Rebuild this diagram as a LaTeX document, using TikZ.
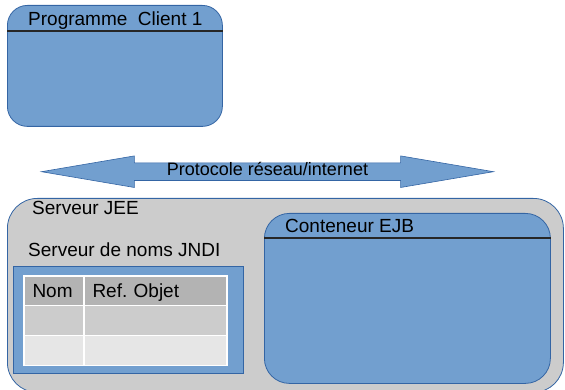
\documentclass[tikz,border=0pt]{standalone}
\usepackage{fontspec}
\setmainfont{Liberation Sans}
\usetikzlibrary{positioning,shapes.arrows}
\definecolor{boxblue}{HTML}{729FCF}
\definecolor{edgeblue}{HTML}{3465A4}
\definecolor{srvgray}{HTML}{CCCCCC}
\definecolor{headgray}{HTML}{B3B3B3}
\definecolor{rowlight}{HTML}{E6E6E6}
\frenchspacing
\tikzset{
  labeltext/.style={font=\fontsize{19}{22}\selectfont, inner sep=0pt, anchor=base west},
  contbox/.style={draw=edgeblue, fill=boxblue, line width=0.8pt, rounded corners=#1,
    anchor=north west},
  headline/.style={draw=black!85, line width=1.2pt},
  cell/.style={draw=white, line width=1.2pt, outer sep=0pt, minimum height=29.7pt,
    text height=14pt, text depth=0pt, inner xsep=8.5pt, align=left,
    font=\fontsize{19}{22}\selectfont}
}
\begin{document}
\begin{tikzpicture}[x=1pt,y=-1pt]
   \useasboundingbox (0,0) rectangle (565,390);

   % client side
   \node[contbox=20pt, minimum width=215pt, minimum height=121pt] (client) at (7,5) {};
   \draw[headline] ([yshift=-26pt]client.north west) -- ([yshift=-26pt]client.north east);
   \node[labeltext] (clientlbl) at (28,26) {Programme\ \ Client 1};

   % network protocol
   \node[double arrow, fill=boxblue, draw=edgeblue, line width=0.6pt,
         double arrow tip angle=19.3, double arrow head extend=7pt,
         minimum height=452pt, inner sep=0pt, text height=12pt, text depth=5pt,
         font=\fontsize{18}{21}\selectfont] (proto) at (267.5,171.7) {Protocole réseau/internet};

   % JEE server
   \node[draw=edgeblue, fill=srvgray, line width=0.8pt, rounded corners=30pt,
         minimum width=556pt, minimum height=194pt, anchor=north west] (jee) at (7,198) {};
   \node[labeltext] (jeelbl) at (32,215) {Serveur JEE};
   \node[labeltext] (jndilbl) at (28,257) {Serveur de noms JNDI};

   % JNDI naming table
   \node[draw=edgeblue, fill=boxblue, line width=0.8pt, minimum width=230pt,
         minimum height=107pt, anchor=north west] (jndi) at (13,266) {};
   \node[cell, fill=headgray, text width=43pt, anchor=north west] (nom) at (24,276) {Nom};
   \node[cell, fill=headgray, text width=126pt, right=0pt of nom] (ref) {Ref. Objet};
   \node[cell, fill=srvgray, text width=43pt, below=0pt of nom] (nomb) {};
   \node[cell, fill=srvgray, text width=126pt, right=0pt of nomb] (refb) {};
   \node[cell, fill=rowlight, text width=43pt, below=0pt of nomb] (nomc) {};
   \node[cell, fill=rowlight, text width=126pt, right=0pt of nomc] (refc) {};

   % EJB container
   \node[contbox=25pt, minimum width=286pt, minimum height=170pt] (ejb) at (264,213) {};
   \draw[headline] ([yshift=-25pt]ejb.north west) -- ([yshift=-25pt]ejb.north east);
   \node[labeltext] (ejblbl) at (285,233) {Conteneur EJB};
\end{tikzpicture}
\end{document}
